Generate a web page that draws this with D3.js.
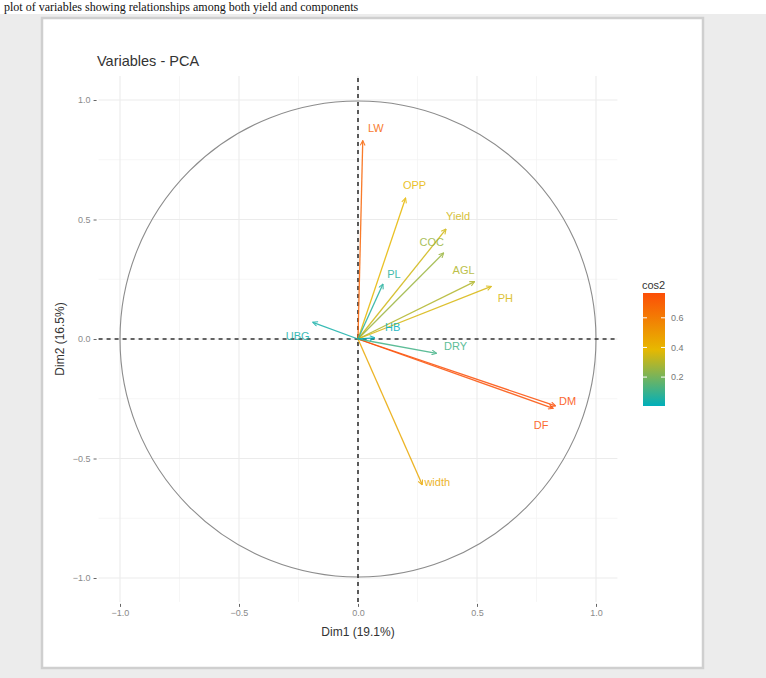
<!DOCTYPE html>
<html>
<head>
<meta charset="utf-8">
<script src="https://cdn.jsdelivr.net/npm/d3@7"></script>
<style>
html,body{margin:0;padding:0;background:#fff;}
svg{display:block;font-family:"Liberation Sans",Arial,sans-serif;}
</style>
</head>
<body>
<script>
// ---- data ----
const variables = ["LW","OPP","Yield","COC","PL","AGL","PH","DM","DF","width","DRY","UBG","HB"];
const dim1 = [0.02, 0.20, 0.37, 0.36, 0.105, 0.49, 0.56, 0.83, 0.82, 0.27, 0.33, -0.19, 0.07];
const dim2 = [0.83, 0.59, 0.46, 0.36, 0.23, 0.24, 0.22, -0.28, -0.29, -0.61, -0.06, 0.07, 0.005];
const majorTicks = [-1.0, -0.5, 0.0, 0.5, 1.0];
const minorTicks = [-0.75, -0.25, 0.25, 0.75];
const legendTicks = [0.2, 0.4, 0.6];
const gradientColors = ["#00AFBB", "#E7B800", "#FC4E07"];
const titleText = "Variables - PCA";
const xTitle = "Dim1 (19.1%)";
const yTitle = "Dim2 (16.5%)";
const captionText = "plot of variables showing relationships among both yield and components";

const W = 766, H = 678;
const svg = d3.select("body").append("svg").attr("width", W).attr("height", H);

// page background
svg.append("rect").attr("x",0).attr("y",0).attr("width",W).attr("height",H).attr("fill","#fff");
svg.append("rect").attr("x",0).attr("y",14).attr("width",W).attr("height",H-14).attr("fill","#ececec");
svg.append("text").attr("x",4).attr("y",11).attr("font-family","'Liberation Serif','Times New Roman',serif")
  .attr("font-size",12).attr("fill","#111").text(captionText);
// card
svg.append("rect").attr("x",42).attr("y",18).attr("width",661).attr("height",650)
  .attr("fill","#fff").attr("stroke","#cfcfcf").attr("stroke-width",2.5);

const x = d3.scaleLinear().domain([-1.09,1.09]).range([358-1.09*238, 358+1.09*238]);
const y = d3.scaleLinear().domain([-1.1,1.1]).range([339+1.1*239, 339-1.1*239]);
const [x0,x1] = x.range(), [y0,y1] = [y(-1.1), y(1.1)];

const g = svg.append("g");
minorTicks.forEach(t=>{
  g.append("line").attr("x1",x(t)).attr("x2",x(t)).attr("y1",y0).attr("y2",y1).attr("stroke","#f4f4f4").attr("stroke-width",0.8);
  g.append("line").attr("y1",y(t)).attr("y2",y(t)).attr("x1",x0).attr("x2",x1).attr("stroke","#f4f4f4").attr("stroke-width",0.8);
});
majorTicks.forEach(t=>{
  g.append("line").attr("x1",x(t)).attr("x2",x(t)).attr("y1",y0).attr("y2",y1).attr("stroke","#ebebeb").attr("stroke-width",1.1);
  g.append("line").attr("y1",y(t)).attr("y2",y(t)).attr("x1",x0).attr("x2",x1).attr("stroke","#ebebeb").attr("stroke-width",1.1);
});

// axes via d3
const fmt = d=>d.toFixed(1).replace("-","\u2212");
const xAxis = d3.axisBottom(x).tickValues(majorTicks).tickFormat(fmt).tickSize(3).tickPadding(3);
const yAxis = d3.axisLeft(y).tickValues(majorTicks).tickFormat(fmt).tickSize(3).tickPadding(3);
const gx = svg.append("g").attr("transform",`translate(0,${y0+2})`).call(xAxis);
const gy = svg.append("g").attr("transform",`translate(${x0-2},0)`).call(yAxis);
[gx,gy].forEach(a=>{
  a.select(".domain").remove();
  a.selectAll(".tick line").attr("stroke","#555").attr("stroke-width",0.9);
  a.selectAll(".tick text").attr("fill","#8a8a8a").attr("font-size",9).attr("font-family","'Liberation Sans',Arial,sans-serif");
});

// circle
svg.append("circle").attr("cx",x(0)).attr("cy",y(0)).attr("r",x(1)-x(0))
  .attr("fill","none").attr("stroke","#8c8c8c").attr("stroke-width",1.1);

// dashed axes
svg.append("line").attr("x1",x0).attr("x2",x1).attr("y1",y(0)).attr("y2",y(0))
  .attr("stroke","#333").attr("stroke-width",1.6).attr("stroke-dasharray","4,4");
svg.append("line").attr("x1",x(0)).attr("x2",x(0)).attr("y1",y0).attr("y2",y1)
  .attr("stroke","#333").attr("stroke-width",1.6).attr("stroke-dasharray","4,4");

// color scale by cos2
const cos2 = dim1.map((d,i)=>d*d + dim2[i]*dim2[i]);
const cmin = d3.min(cos2), cmax = d3.max(cos2);
const color = d3.scaleLinear().domain([cmin,(cmin+cmax)/2,cmax]).range(gradientColors).interpolate(d3.interpolateRgb);

// label offsets (layout only)
const labelOffset = {LW:[13,-12],OPP:[9,-13],Yield:[12,-13],COC:[-12,-11],PL:[11,-10],AGL:[-11,-11],
  PH:[14,12],DM:[12,-5],DF:[-12,17],width:[15,-3],DRY:[19,-7],UBG:[-15,14],HB:[18,-11]};

const defs = svg.append("defs");
variables.forEach((v,i)=>{
  const c = color(cos2[i]);
  const id = "ah"+i;
  defs.append("marker").attr("id",id).attr("viewBox","0 0 10 10").attr("refX",9).attr("refY",5)
    .attr("markerWidth",6).attr("markerHeight",6).attr("markerUnits","userSpaceOnUse").attr("orient","auto")
    .append("path").attr("d","M1,1 L9,5 L1,9").attr("fill","none").attr("stroke",c).attr("stroke-width",1.8);
  svg.append("line").attr("x1",x(0)).attr("y1",y(0)).attr("x2",x(dim1[i])).attr("y2",y(dim2[i]))
    .attr("stroke",c).attr("stroke-width",1.3).attr("opacity",0.85).attr("marker-end",`url(#${id})`);
});
variables.forEach((v,i)=>{
  const c = color(cos2[i]);
  const o = labelOffset[v] || [0,-10];
  svg.append("text").attr("x",x(dim1[i])+o[0]).attr("y",y(dim2[i])+o[1]).attr("dy","0.35em")
    .attr("text-anchor","middle").attr("font-size",11).attr("fill",c).attr("opacity",0.85).text(v);
});

// title and axis titles
svg.append("text").attr("x",97).attr("y",66).attr("font-size",14.5).attr("fill","#333").text(titleText);
svg.append("text").attr("x",x(0)).attr("y",636).attr("text-anchor","middle").attr("font-size",12).attr("fill","#333").text(xTitle);
svg.append("text").attr("transform",`translate(64,${y(0)}) rotate(-90)`).attr("text-anchor","middle")
  .attr("font-size",12).attr("fill","#333").text(yTitle);

// legend
const lg = svg.append("g");
const barTop = 293, barBot = 406, barX = 643, barW = 22;
const ls = d3.scaleLinear().domain([cmin,cmax]).range([barBot,barTop]);
const grad = defs.append("linearGradient").attr("id","cbar").attr("x1",0).attr("y1",1).attr("x2",0).attr("y2",0);
d3.range(0,1.0001,0.1).forEach(t=>{
  grad.append("stop").attr("offset",t).attr("stop-color",color(cmin+t*(cmax-cmin)));
});
lg.append("rect").attr("x",barX).attr("y",barTop).attr("width",barW).attr("height",barBot-barTop).attr("fill","url(#cbar)");
lg.append("text").attr("x",barX-1).attr("y",289).attr("font-size",11).attr("fill","#333").text("cos2");
legendTicks.forEach(t=>{
  lg.append("line").attr("x1",barX).attr("x2",barX+4).attr("y1",ls(t)).attr("y2",ls(t)).attr("stroke","#fff").attr("stroke-width",1);
  lg.append("line").attr("x1",barX+barW-4).attr("x2",barX+barW).attr("y1",ls(t)).attr("y2",ls(t)).attr("stroke","#fff").attr("stroke-width",1);
  lg.append("text").attr("x",barX+barW+6).attr("y",ls(t)).attr("dy","0.35em").attr("font-size",9).attr("fill","#777").text(t.toFixed(1));
});
</script>
</body>
</html>
